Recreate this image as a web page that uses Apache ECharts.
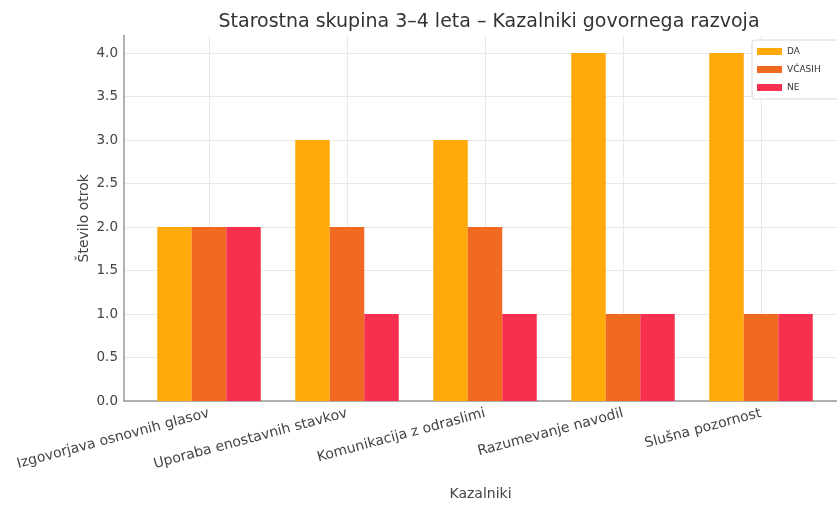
<!DOCTYPE html>
<html>
<head>
<meta charset="utf-8">
<script src="https://cdn.jsdelivr.net/npm/echarts@6/dist/echarts.min.js"></script>
<style>html,body{margin:0;padding:0;background:#fff}#c{width:837px;height:508px}</style>
</head>
<body>
<div id="c"></div>
<script>
const categories = ['Izgovorjava osnovnih glasov', 'Uporaba enostavnih stavkov', 'Komunikacija z odraslimi', 'Razumevanje navodil', 'Slušna pozornost'];
const seriesNames = ['DA', 'VČASIH', 'NE'];
const daValues = [2, 3, 3, 4, 4];
const vcasihValues = [2, 2, 2, 1, 1];
const neValues = [2, 1, 1, 1, 1];
const yTicks = [0, 0.5, 1, 1.5, 2, 2.5, 3, 3.5, 4];
const colors = ['#FFA90A', '#F26A22', '#F7304F'];
const allValues = [daValues, vcasihValues, neValues];
const offsets = [-0.25, 0, 0.25];
const barW = 0.25;

const FONT = 'DejaVu Sans';
const chart = echarts.init(document.getElementById('c'));

function makeSeries(k) {
  return {
    name: seriesNames[k],
    type: 'custom',
    xAxisIndex: 1,
    yAxisIndex: 1,
    itemStyle: { color: colors[k] },
    data: allValues[k].map((v, i) => [i + offsets[k], v]),
    encode: { x: 0, y: 1 },
    renderItem: function (params, api) {
      const x = api.value(0), y = api.value(1);
      const top = api.coord([x - barW / 2, y]);
      const bot = api.coord([x + barW / 2, 0]);
      return {
        type: 'rect',
        shape: { x: top[0], y: top[1], width: bot[0] - top[0], height: bot[1] - top[1] },
        style: { fill: colors[k] }
      };
    }
  };
}

const gTop = 35.6, gH = 365.4;
chart.setOption({
  animation: false,
  backgroundColor: '#fff',
  title: {
    text: 'Starostna skupina 3–4 leta – Kazalniki govornega razvoja',
    left: 484, top: 8, textAlign: 'center',
    textStyle: { fontFamily: FONT, fontSize: 19, fontWeight: 'normal', color: '#333' }
  },
  legend: {
    data: seriesNames,
    orient: 'vertical',
    left: 752, top: 40,
    padding: [7, 30, 7, 5],
    itemGap: 9,
    itemWidth: 25, itemHeight: 7,
    icon: 'rect',
    borderColor: '#d8d8d8', borderWidth: 1, borderRadius: 3,
    backgroundColor: '#fff',
    textStyle: { fontFamily: FONT, fontSize: 9, color: '#333' }
  },
  grid: [
    { left: 124, top: gTop, width: 721, height: gH, containLabel: false },
    { left: 209, top: gTop, width: 552, height: gH, containLabel: false }
  ],
  xAxis: [
    {
      type: 'value', gridIndex: 0, min: -0.6125, max: 4.6125,
      axisLine: { show: true, onZero: false, lineStyle: { color: '#999', width: 1.5 } },
      axisTick: { show: false }, axisLabel: { show: false }, splitLine: { show: false },
      name: 'Kazalniki', nameLocation: 'middle', nameGap: 86, nameMoveOverlap: false,
      nameTextStyle: { fontFamily: FONT, fontSize: 14, color: '#444' }
    },
    {
      type: 'value', gridIndex: 1, min: 0, max: 4, interval: 1,
      axisLine: { show: false },
      axisTick: { show: false },
      axisLabel: {
        rotate: 15, margin: 12,
        fontFamily: FONT, fontSize: 14, color: '#444',
        formatter: v => categories[Math.round(v)] || ''
      },
      splitLine: { show: true, lineStyle: { color: '#e8e8e8', width: 1 } }
    }
  ],
  yAxis: [
    {
      type: 'value', gridIndex: 0, min: 0, max: 4.2, interval: 0.5,
      axisLine: { show: true, onZero: false, lineStyle: { color: '#999', width: 1.5 } },
      axisTick: { show: false },
      axisLabel: {
        fontFamily: FONT, fontSize: 13.5, color: '#444', margin: 6,
        showMaxLabel: false,
        formatter: v => (yTicks.indexOf(v) >= 0 ? v.toFixed(1) : '')
      },
      splitLine: { show: true, showMaxLine: false, lineStyle: { color: '#e8e8e8', width: 1 } },
      name: 'Število otrok', nameLocation: 'middle', nameGap: 33, nameRotate: 90, nameMoveOverlap: false,
      nameTextStyle: { fontFamily: FONT, fontSize: 14, color: '#444' }
    },
    {
      type: 'value', gridIndex: 1, min: 0, max: 4.2, show: false
    }
  ],
  series: [makeSeries(0), makeSeries(1), makeSeries(2)]
});
</script>
</body>
</html>
